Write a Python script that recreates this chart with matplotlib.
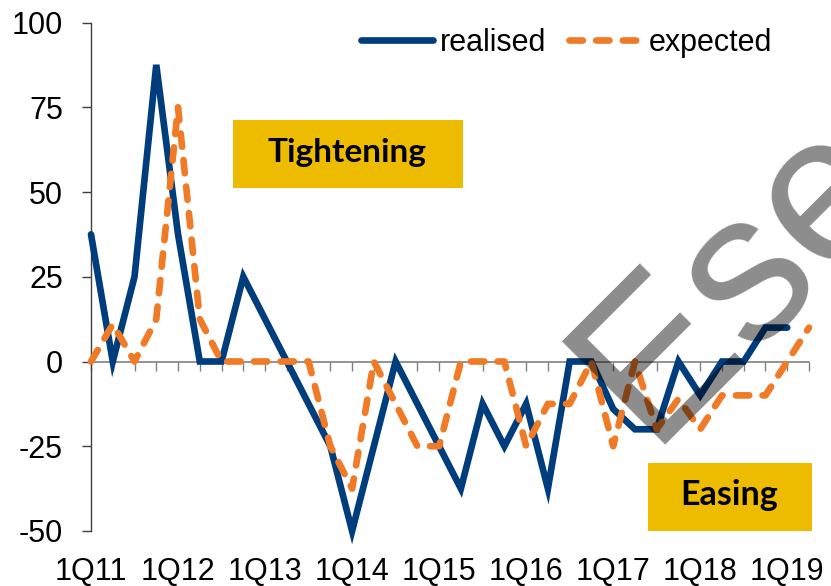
import matplotlib
matplotlib.use('Agg')
import matplotlib.pyplot as plt
from matplotlib.patches import Rectangle

quarters = ["1Q11", "2Q11", "3Q11", "4Q11", "1Q12", "2Q12", "3Q12", "4Q12",
            "1Q13", "2Q13", "3Q13", "4Q13", "1Q14", "2Q14", "3Q14", "4Q14",
            "1Q15", "2Q15", "3Q15", "4Q15", "1Q16", "2Q16", "3Q16", "4Q16",
            "1Q17", "2Q17", "3Q17", "4Q17", "1Q18", "2Q18", "3Q18", "4Q18",
            "1Q19", "2Q19"]
realised = [37.5, 0, 25, 87.5, 37.5, 0, 0, 25,
            12.5, 0, -12.5, -25, -50, -25, 0, -12.5,
            -25, -37.5, -12.5, -25, -12.5, -37.5, 0, 0,
            -14, -20, -20, 0, -10, 0, 0, 10,
            10]
expected = [0, 11, 0, 12.5, 75, 12.5, 0, 0,
            0, 0, 0, -25, -37.5, 0, -12.5, -25,
            -25, 0, 0, 0, -25, -12.5, -12.5, 0,
            -25, 0, -20, -11, -20, -10, -10, -10,
            0, 10]
y_ticks = [-50, -25, 0, 25, 50, 75, 100]
x_tick_labels = ["1Q11", "1Q12", "1Q13", "1Q14", "1Q15", "1Q16", "1Q17", "1Q18", "1Q19"]

plt.rcParams['font.family'] = ['Liberation Sans', 'DejaVu Sans']
plt.rcParams['axes.unicode_minus'] = False

W, H = 831, 586
fig = plt.figure(figsize=(W / 100, H / 100), dpi=100)
ax = fig.add_axes([91 / W, 1 - 531 / H, (809 - 91) / W, (531 - 22.5) / H])

BLUE = '#003D7D'
ORANGE = '#F07A25'

ax.plot(range(len(realised)), realised, color=BLUE, lw=4.8,
        solid_capstyle='round', solid_joinstyle='miter', clip_on=False,
        label='realised', zorder=3)
ax.plot(range(len(expected)), expected, color=ORANGE, lw=4.8, ls=(0, (2.0, 2.0)),
        dash_capstyle='round', dash_joinstyle='round', clip_on=False,
        label='expected', zorder=4)

ax.set_xlim(0, len(quarters) - 1)
ax.set_ylim(-50, 100)
ax.set_yticks(y_ticks)
ax.set_yticklabels([str(v) for v in y_ticks])

for s in ['top', 'right']:
    ax.spines[s].set_visible(False)
ax.spines['bottom'].set_position(('data', 0))
ax.spines['bottom'].set_color('#808080')
ax.spines['bottom'].set_linewidth(1.2)
ax.spines['left'].set_color('#404040')
ax.spines['left'].set_linewidth(1.0)

ax.set_xticks(range(len(quarters)))
ax.set_xticklabels([])
ax.tick_params(axis='x', direction='out', length=6.5, width=1, color='#808080')
ax.tick_params(axis='y', direction='out', length=6.5, width=1, color='#404040',
               labelsize=22, pad=13.7)

sec = ax.secondary_xaxis('bottom')
sec.set_xticks([quarters.index(l) for l in x_tick_labels])
sec.set_xticklabels(x_tick_labels)
sec.tick_params(length=0, labelsize=22, pad=18.7)
sec.spines['bottom'].set_visible(False)

fig.legend(loc='center', bbox_to_anchor=(566.5 / W, 1 - 42.7 / H), ncol=2,
           frameon=False, fontsize=22, handlelength=2.36, handletextpad=0.23,
           columnspacing=0.75, borderpad=0, borderaxespad=0)

GOLD = '#EDBC00'
ax.add_patch(Rectangle((232.7 / W, 1 - 187.7 / H), 230 / W, 67.7 / H,
                       transform=fig.transFigure, facecolor=GOLD, edgecolor='none',
                       clip_on=False, zorder=2))
ax.add_patch(Rectangle((648 / W, 1 - 530.7 / H), 164 / W, 67.4 / H,
                       transform=fig.transFigure, facecolor=GOLD, edgecolor='none',
                       clip_on=False, zorder=2))
fig.text(347 / W, 1 - 161.7 / H, 'Tightening', ha='center', va='baseline',
         fontsize=24, fontweight='bold', family=['Lato', 'DejaVu Sans'], color='black')
fig.text(729.5 / W, 1 - 505 / H, 'Easing', ha='center', va='baseline',
         fontsize=24.5, fontweight='bold', family=['Lato', 'DejaVu Sans'], color='black')

fig.text(648 / W, 1 - 444.6 / H, 'Ese', rotation=45, rotation_mode='anchor',
         ha='left', va='baseline', fontsize=152, color='black', alpha=0.45,
         family=['Liberation Sans', 'DejaVu Sans'], zorder=10)

fig.savefig('out.png', dpi=100)
